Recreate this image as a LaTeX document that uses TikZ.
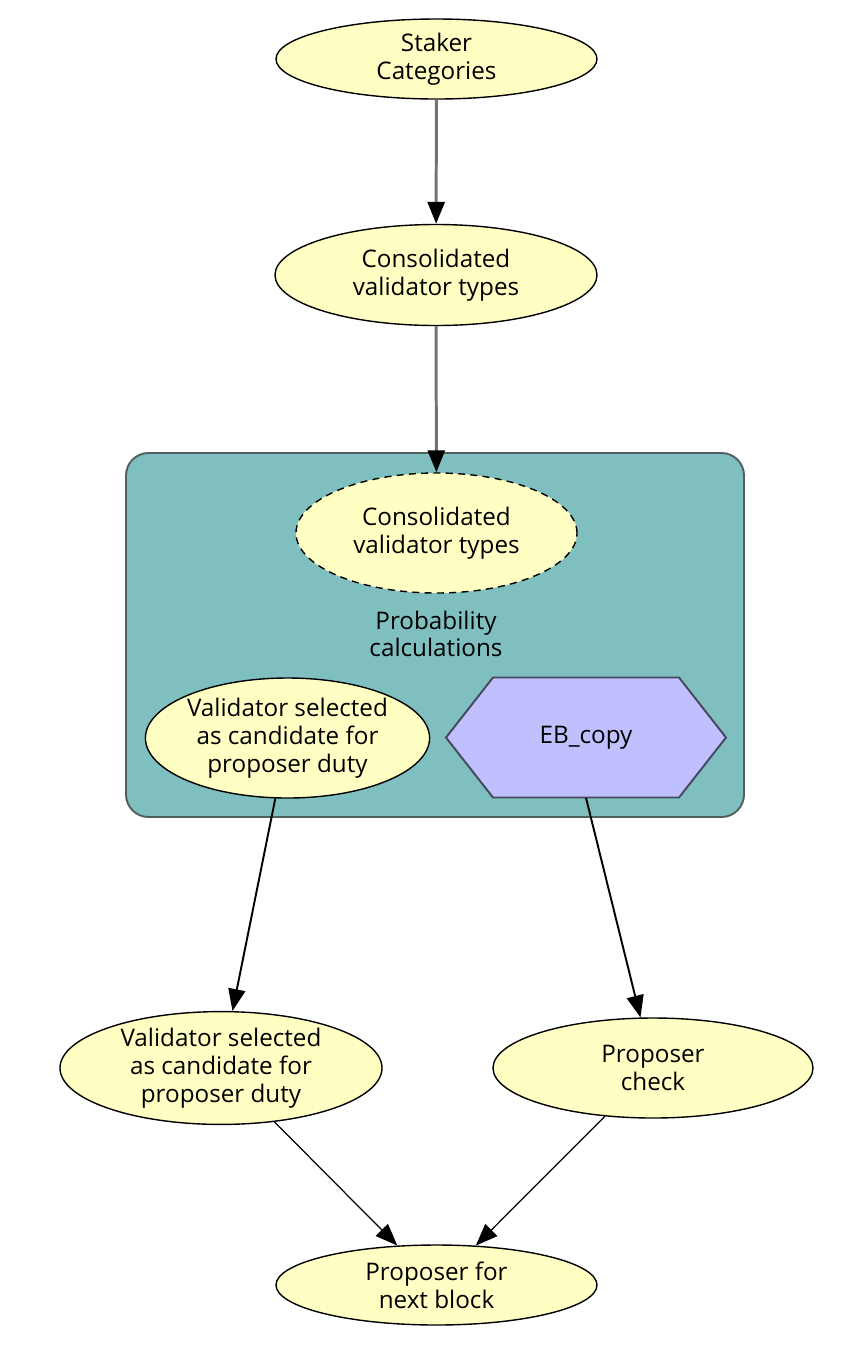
\documentclass[tikz,border=0pt]{standalone}
\usepackage{fontspec}
\setmainfont{Open Sans}
\usetikzlibrary{shapes.geometric,arrows.meta}
\definecolor{nodefill}{RGB}{255,255,196}
\definecolor{clusterfill}{RGB}{128,191,191}
\definecolor{clusterline}{RGB}{80,96,96}
\definecolor{hexfill}{RGB}{192,192,255}
\definecolor{hexline}{RGB}{70,72,96}
\definecolor{edgegray}{RGB}{115,115,115}

\begin{document}
\begin{tikzpicture}[scale=1,
  every node/.style={font=\fontsize{13.8}{15.8}\selectfont, align=center, inner sep=0pt},
  oval/.style={ellipse, draw=black, line width=0.8pt, fill=nodefill},
  tip/.style={-{Triangle[length=0.44cm,width=0.34cm,color=black]}}]

\useasboundingbox (0,0) rectangle (17.12,-27.12);

\node[oval, minimum width=6.42cm, minimum height=1.6cm] (staker) at (8.73,-1.18) {Staker\\Categories};

\node[oval, minimum width=6.44cm, minimum height=2.02cm] (cons) at (8.72,-5.5) {Consolidated\\validator types};

% cluster
\draw[fill=clusterfill, draw=clusterline, line width=1.1pt, rounded corners=0.45cm] (2.52,-9.06) rectangle (14.88,-16.34);

\node[oval, dash pattern=on 4pt off 3pt, minimum width=5.62cm, minimum height=2.4cm] (consin) at (8.73,-10.66) {Consolidated\\validator types};

\node (prob) at (8.72,-12.68) {Probability\\calculations};

\node[oval, minimum width=5.62cm, minimum height=2.4cm] (selin) at (5.75,-14.76) {Validator selected\\as candidate for\\proposer duty};

\draw[fill=hexfill, draw=hexline, line width=1.1pt] (8.92,-14.75) -- (9.86,-13.55) -- (13.58,-13.55) -- (14.52,-14.75) -- (13.58,-15.95) -- (9.86,-15.95) -- cycle;
\node[minimum width=5.6cm, minimum height=2.4cm] (hex) at (11.72,-14.75) {EB\_copy};
%

\node[oval, minimum width=6.44cm, minimum height=2cm] (selout) at (4.42,-21.36) {Validator selected\\as candidate for\\proposer duty};

\node[oval, minimum width=6.4cm, minimum height=2cm] (check) at (13.06,-21.36) {Proposer\\check};

\node[oval, minimum width=6.42cm, minimum height=1.6cm] (next) at (8.73,-25.7) {Proposer for\\next block};

% edges
\draw[tip, draw=edgegray, line width=1.7pt] (staker) -- (cons);
\draw[tip, draw=edgegray, line width=1.7pt] (cons) -- (consin);

\draw[tip, line width=1.1pt] (selin) -- (selout);
\draw[tip, line width=1.1pt] (hex.south) -- (check);

\draw[tip, line width=0.7pt] (selout) -- (next);
\draw[tip, line width=0.7pt] (check) -- (next);

\end{tikzpicture}
\end{document}
